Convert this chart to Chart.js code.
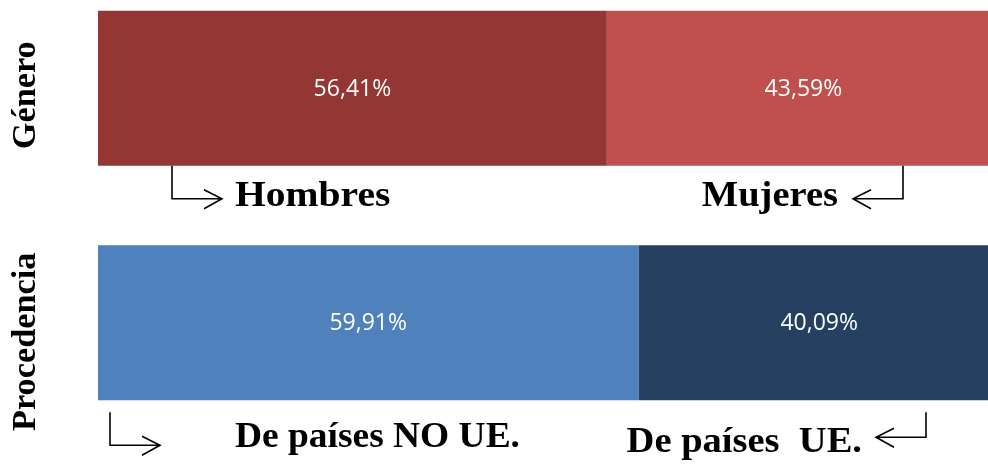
<!DOCTYPE html>
<html>
<head>
<meta charset="utf-8">
<script src="https://cdn.jsdelivr.net/npm/chart.js@4.4.1/dist/chart.umd.min.js"></script>
<style>
    html, body { margin: 0; padding: 0; background: #ffffff; }
    #wrap { position: relative; width: 988px; height: 465px; overflow: hidden; }
    #barChart { position: absolute; left: 0; top: -29px; }
</style>
</head>
<body>
<div id="wrap">
    <canvas id="barChart" width="1000" height="494"></canvas>
</div>
<script>
// Datos
var categorias = ['Género', 'Procedencia'];
var primerGrupo = [56.41, 59.91];
var segundoGrupo = [43.59, 40.09];
var etiquetasPrimero = ['Hombres', 'De países NO UE.'];
var etiquetasSegundo = ['Mujeres', 'De países  UE.'];

var coloresPrimero = ['#943634', '#4f81bd'];
var coloresSegundo = ['#c0504d', '#254061'];

// Posicion de flechas y textos debajo de cada barra (relativo a la barra)
var disposicion = [
    { izq: { texto: 137, base: 40, flecha: 74, y0: 0, y1: 33, esc: 1.1 },
      der: { texto: -162, base: 40, flecha: -97, y0: 0, y1: 33, esc: 1.07 },
      eje: 7 },
    { izq: { texto: 137, base: 47, flecha: 12, y0: 12, y1: 45, esc: 1.04 },
      der: { texto: -138, base: 52, flecha: -74, y0: 12, y1: 37, esc: 1.07 },
      eje: 19 }
];

function formato(v) {
    return v.toFixed(2).replace('.', ',') + '%';
}

function flecha(ctx, x, y0, y1, dir) {
    var fin = x + dir * 50;
    ctx.beginPath();
    ctx.moveTo(x, y0);
    ctx.lineTo(x, y1);
    ctx.lineTo(fin, y1);
    ctx.moveTo(fin - dir * 18, y1 - 9);
    ctx.lineTo(fin, y1);
    ctx.lineTo(fin - dir * 18, y1 + 10);
    ctx.stroke();
}

var etiquetasPlugin = {
    id: 'etiquetas',
    afterDatasetsDraw: function(chart) {
        var ctx = chart.ctx;
        var area = chart.chartArea;
        var meta0 = chart.getDatasetMeta(0);
        var meta1 = chart.getDatasetMeta(1);

        ctx.save();
        // porcentajes dentro de las barras
        ctx.fillStyle = '#ffffff';
        ctx.font = '23px "Open Sans"';
        ctx.textAlign = 'center';
        ctx.textBaseline = 'middle';
        [meta0, meta1].forEach(function(meta, d) {
            meta.data.forEach(function(el, i) {
                var v = chart.data.datasets[d].data[i];
                ctx.fillText(formato(v), (el.x + el.base) / 2, el.y + 1);
            });
        });

        ctx.fillStyle = '#000000';
        ctx.strokeStyle = '#000000';
        ctx.lineWidth = 1.6;
        ctx.textBaseline = 'alphabetic';

        meta0.data.forEach(function(el, i) {
            var abajo = el.y + el.height / 2;
            var lay = disposicion[i];

            // titulo rotado del eje
            ctx.save();
            ctx.font = 'bold 33px "Liberation Serif"';
            ctx.translate(area.left - 63, el.y + lay.eje);
            ctx.rotate(-Math.PI / 2);
            ctx.scale(1.04, 1);
            ctx.textAlign = 'center';
            ctx.fillText(categorias[i], 0, 0);
            ctx.restore();

            ctx.font = 'bold 36px "Liberation Serif"';

            // izquierda
            flecha(ctx, area.left + lay.izq.flecha, abajo + lay.izq.y0, abajo + lay.izq.y1, 1);
            ctx.save();
            ctx.translate(area.left + lay.izq.texto, abajo + lay.izq.base);
            ctx.scale(lay.izq.esc, 1);
            ctx.textAlign = 'left';
            ctx.fillText(etiquetasPrimero[i], 0, 0);
            ctx.restore();

            // derecha
            flecha(ctx, area.right + lay.der.flecha, abajo + lay.der.y0, abajo + lay.der.y1, -1);
            ctx.save();
            ctx.translate(area.right + lay.der.texto, abajo + lay.der.base);
            ctx.scale(lay.der.esc, 1);
            ctx.textAlign = 'right';
            ctx.fillText(etiquetasSegundo[i], 0, 0);
            ctx.restore();
        });
        ctx.restore();
    }
};

var ctx = document.getElementById('barChart').getContext('2d');

var grafico = new Chart(ctx, {
    type: 'bar',
    data: {
        labels: categorias,
        datasets: [{
            label: 'primero',
            data: primerGrupo,
            backgroundColor: coloresPrimero,
            borderWidth: 0,
            categoryPercentage: 1,
            barPercentage: 0.661
        }, {
            label: 'segundo',
            data: segundoGrupo,
            backgroundColor: coloresSegundo,
            borderWidth: 0,
            categoryPercentage: 1,
            barPercentage: 0.661
        }]
    },
    options: {
        indexAxis: 'y',
        responsive: false,
        animation: false,
        layout: {
            padding: { left: 98, right: 0, top: 0, bottom: 25 }
        },
        plugins: {
            legend: { display: false },
            tooltip: { enabled: false }
        },
        scales: {
            x: { stacked: true, min: 0, max: 100, display: false },
            y: { stacked: true, display: false }
        }
    },
    plugins: [etiquetasPlugin]
});
</script>
</body>
</html>
